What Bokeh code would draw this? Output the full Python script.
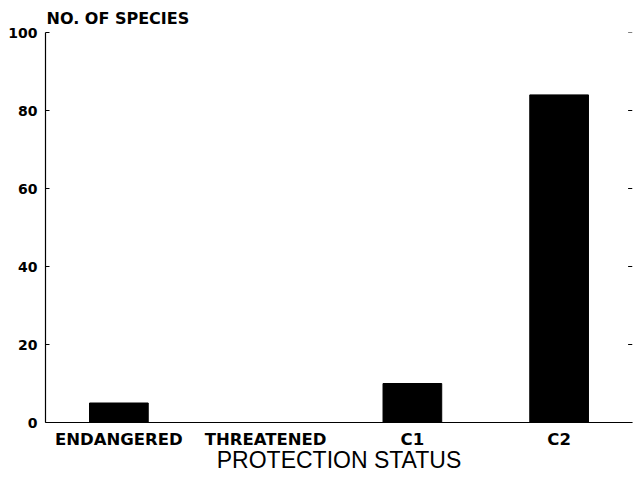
from bokeh.plotting import figure
from bokeh.models import Range1d, FixedTicker
from bokeh.embed import file_html
from bokeh.resources import INLINE

categories = ["ENDANGERED", "THREATENED", "C1", "C2"]
species_counts = [5, 0, 10, 84]
y_ticks = [0, 20, 40, 60, 80, 100]
y_title = "NO. OF SPECIES"
x_title = "PROTECTION STATUS"

x_pos = list(range(1, len(categories) + 1))
x_start, x_end = 0.5, len(categories) + 0.5
y_start, y_end = 0, 100

p = figure(width=633, height=481, output_backend="svg", toolbar_location=None,
           x_range=Range1d(x_start, x_end), y_range=Range1d(y_start, y_end),
           min_border_left=45, min_border_right=1, min_border_top=32, min_border_bottom=59,
           title=y_title)
p.outline_line_color = None
p.grid.visible = False
p.background_fill_color = "white"
p.border_fill_color = "white"

p.vbar(x=x_pos, top=species_counts, bottom=0, width=0.4,
       fill_color="black", line_color="black")

# tick marks on the right-hand edge (no labels)
tick_len = 0.03
p.segment(x0=[x_end] * len(y_ticks), y0=y_ticks,
          x1=[x_end - tick_len] * len(y_ticks), y1=y_ticks,
          line_color="black", line_width=1)

p.title.text_font = "DejaVu Sans"
p.title.text_font_size = "16px"
p.title.text_font_style = "bold"
p.title.align = "left"
p.title.offset = 1
p.title.standoff = 9
p.title.text_color = "black"

xa = p.xaxis[0]
xa.ticker = FixedTicker(ticks=x_pos)
xa.major_label_overrides = {i: c for i, c in zip(x_pos, categories)}
xa.major_tick_line_color = None
xa.major_tick_in = 0
xa.major_tick_out = 0
xa.minor_tick_line_color = None
xa.axis_line_color = "black"
xa.axis_line_width = 1.2
xa.major_label_text_font = "DejaVu Sans"
xa.major_label_text_font_size = "16.5px"
xa.major_label_text_font_style = "bold"
xa.major_label_text_color = "black"
xa.major_label_standoff = 7
xa.axis_label = x_title
xa.axis_label_text_font = "Liberation Sans"
xa.axis_label_text_font_size = "23px"
xa.axis_label_text_font_style = "normal"
xa.axis_label_text_color = "black"
xa.axis_label_standoff = -5

ya = p.yaxis[0]
ya.ticker = FixedTicker(ticks=y_ticks)
ya.major_tick_in = 4
ya.major_tick_out = 0
ya.minor_tick_line_color = None
ya.axis_line_color = "black"
ya.axis_line_width = 1.2
ya.major_tick_line_color = "black"
ya.major_label_text_font = "DejaVu Sans"
ya.major_label_text_font_size = "14px"
ya.major_label_text_font_style = "bold"
ya.major_label_text_color = "black"
ya.major_label_standoff = 8

open("out.html", "w").write(file_html(p, INLINE))
